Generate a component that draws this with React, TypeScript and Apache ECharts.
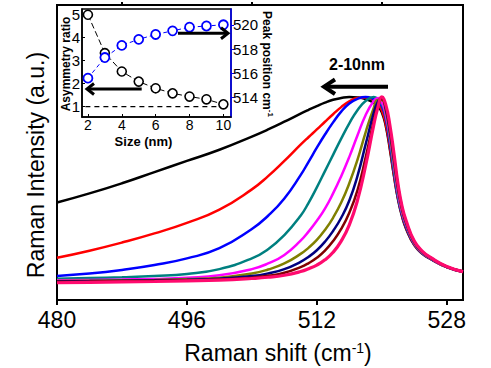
import React, { useEffect, useRef } from "react";
import * as echarts from "echarts";

// Raman shift sample points (cm^-1)
const ramanShift = [480, 484, 488, 492, 496, 500, 504, 506, 508, 510, 511, 512, 513, 514, 515, 516, 517, 518, 519, 519.5, 520, 520.5, 521, 521.5, 522, 522.5, 523, 524, 525, 526, 528, 530];

// Normalized Raman intensity for each crystallite size (a.u.)
const int2nm = [0.48, 0.525, 0.575, 0.63, 0.685, 0.74, 0.805, 0.84, 0.878, 0.918, 0.937, 0.955, 0.972, 0.986, 0.995, 1.0, 0.998, 0.99, 0.972, 0.955, 0.925, 0.855, 0.74, 0.61, 0.495, 0.41, 0.35, 0.27, 0.228, 0.202, 0.162, 0.138];
const int3nm = [0.208, 0.243, 0.283, 0.328, 0.38, 0.445, 0.545, 0.61, 0.685, 0.765, 0.803, 0.84, 0.878, 0.915, 0.95, 0.978, 0.995, 0.998, 0.985, 0.965, 0.935, 0.865, 0.75, 0.615, 0.5, 0.415, 0.355, 0.272, 0.229, 0.203, 0.162, 0.138];
const int4nm = [0.118, 0.13, 0.148, 0.172, 0.205, 0.255, 0.35, 0.415, 0.5, 0.615, 0.682, 0.75, 0.815, 0.875, 0.928, 0.968, 0.991, 1.0, 0.99, 0.975, 0.955, 0.89, 0.77, 0.63, 0.505, 0.42, 0.36, 0.275, 0.23, 0.204, 0.162, 0.139];
const int5nm = [0.105, 0.108, 0.112, 0.118, 0.128, 0.152, 0.205, 0.25, 0.32, 0.415, 0.48, 0.555, 0.635, 0.715, 0.795, 0.87, 0.935, 0.98, 1.0, 0.99, 0.965, 0.9, 0.785, 0.64, 0.51, 0.425, 0.365, 0.278, 0.232, 0.205, 0.162, 0.139];
const int6nm = [0.097, 0.099, 0.101, 0.104, 0.11, 0.122, 0.152, 0.18, 0.222, 0.292, 0.338, 0.39, 0.45, 0.525, 0.61, 0.705, 0.81, 0.91, 0.98, 0.995, 0.975, 0.91, 0.8, 0.66, 0.525, 0.43, 0.37, 0.28, 0.234, 0.206, 0.163, 0.139];
const int7nm = [0.093, 0.095, 0.097, 0.099, 0.103, 0.11, 0.13, 0.15, 0.18, 0.227, 0.258, 0.296, 0.345, 0.405, 0.48, 0.575, 0.69, 0.825, 0.945, 0.985, 0.985, 0.93, 0.815, 0.675, 0.54, 0.44, 0.375, 0.283, 0.235, 0.207, 0.163, 0.14];
const int8nm = [0.092, 0.093, 0.095, 0.097, 0.1, 0.105, 0.118, 0.131, 0.152, 0.188, 0.213, 0.245, 0.287, 0.34, 0.405, 0.49, 0.61, 0.765, 0.92, 0.975, 0.992, 0.94, 0.83, 0.69, 0.55, 0.45, 0.38, 0.286, 0.237, 0.208, 0.164, 0.14];
const int9nm = [0.09, 0.091, 0.093, 0.095, 0.097, 0.101, 0.11, 0.119, 0.134, 0.162, 0.182, 0.208, 0.243, 0.29, 0.35, 0.43, 0.54, 0.7, 0.88, 0.955, 0.99, 0.95, 0.845, 0.705, 0.56, 0.455, 0.385, 0.288, 0.238, 0.209, 0.164, 0.14];
const int10nm = [0.085, 0.087, 0.089, 0.091, 0.094, 0.098, 0.106, 0.112, 0.122, 0.14, 0.154, 0.172, 0.198, 0.235, 0.29, 0.37, 0.49, 0.66, 0.86, 0.945, 1.0, 0.96, 0.86, 0.72, 0.57, 0.46, 0.39, 0.29, 0.24, 0.21, 0.165, 0.14];

const spectra = [int2nm, int3nm, int4nm, int5nm, int6nm, int7nm, int8nm, int9nm, int10nm];
const spectrumColors = ["#000000", "#ff0000", "#0000ff", "#008080", "#ff00ff", "#808000", "#000080", "#800000", "#ff0a6e"];

// Inset data
const sizes = [2, 3, 4, 5, 6, 7, 8, 9, 10];
const asymmetryRatio = [5.0, 3.33, 2.53, 2.09, 1.8, 1.58, 1.44, 1.32, 1.1];
const peakPosition = [515.6, 517.3, 518.3, 518.8, 519.2, 519.5, 519.8, 519.9, 520.0];
const refLineX = [1.85, 10.25];
const refLineY = [1, 1];

// Tick labels
const xTicks = [480, 496, 512, 528];
const xMinorTicks = [488, 504, 520];
const insetXTicks = [2, 4, 6, 8, 10];
const insetLeftTicks = [1, 2, 3, 4, 5];
const insetRightTicks = [514, 516, 518, 520];

const FONT = '"Liberation Sans", Arial, sans-serif';

export default function App() {
  const ref = useRef<HTMLDivElement>(null);

  useEffect(() => {
    if (!ref.current) return;
    const chart = echarts.init(ref.current, null, { renderer: "svg" });

    const mainSeries = spectra.map((arr, k) => ({
      type: "line",
      xAxisIndex: 0,
      yAxisIndex: 0,
      data: ramanShift.map((x, i) => [x, arr[i]]),
      showSymbol: false,
      smooth: 0.5,
      lineStyle: { color: spectrumColors[k], width: k === spectra.length - 1 ? 3.2 : 2.5 },
      z: 2 + k * 0.01,
      silent: true,
    }));

    const option: any = {
      animation: false,
      textStyle: { fontFamily: FONT },
      grid: [
        { left: 57, top: 5, width: 406, height: 295, show: true, borderColor: "#000", borderWidth: 2, backgroundColor: "transparent" },
        { left: 82, top: 9, width: 149, height: 108, show: true, borderColor: "#000", borderWidth: 1.5, backgroundColor: "#fff", z: 3 },
      ],
      xAxis: [
        {
          type: "value", gridIndex: 0, min: 480, max: 530,
          axisLine: { show: true, onZero: false, lineStyle: { color: "#000", width: 2 } },
          axisTick: { show: true, customValues: xTicks, length: 5, lineStyle: { color: "#000", width: 2 } },
          axisLabel: { show: true, customValues: xTicks, fontSize: 23, color: "#000", margin: 8, fontFamily: FONT },
          splitLine: { show: false },
        },
        {
          type: "value", gridIndex: 0, min: 480, max: 530,
          axisLine: { show: false, onZero: false },
          axisTick: { show: true, customValues: xMinorTicks, length: 3, lineStyle: { color: "#000", width: 2 } },
          axisLabel: { show: false },
          splitLine: { show: false },
        },
        {
          type: "value", gridIndex: 1, min: 1.65, max: 10.45,
          axisLine: { show: true, onZero: false, lineStyle: { color: "#000", width: 1.5 } },
          axisTick: { show: true, inside: true, customValues: insetXTicks, length: 3, lineStyle: { color: "#000" } },
          axisLabel: { show: true, customValues: insetXTicks, fontSize: 14, color: "#000", margin: 1, fontFamily: FONT },
          splitLine: { show: false },
          z: 4,
        },
      ],
      yAxis: [
        {
          type: "value", gridIndex: 0, min: 0, max: 1.453,
          axisLine: { show: true, onZero: false, lineStyle: { color: "#000", width: 2 } },
          axisTick: { show: false },
          axisLabel: { show: false },
          splitLine: { show: false },
        },
        {
          type: "value", gridIndex: 1, min: 0.55, max: 5.25, position: "left",
          axisLine: { show: true, onZero: false, lineStyle: { color: "#000", width: 1.5 } },
          axisTick: { show: true, inside: true, customValues: insetLeftTicks, length: 3, lineStyle: { color: "#000" } },
          axisLabel: { show: true, customValues: insetLeftTicks, fontSize: 15, color: "#000", margin: 2, fontFamily: FONT },
          splitLine: { show: false },
          z: 4,
        },
        {
          type: "value", gridIndex: 1, min: 512.4, max: 521.3, position: "right",
          axisLine: { show: true, onZero: false, lineStyle: { color: "#0000ff", width: 1.5 } },
          axisTick: { show: true, customValues: insetRightTicks, length: 3, lineStyle: { color: "#0000ff" } },
          axisLabel: { show: true, customValues: insetRightTicks, fontSize: 15, color: "#000", margin: 2, fontFamily: FONT },
          splitLine: { show: false },
          z: 4,
        },
      ],
      series: [
        ...mainSeries,
        {
          type: "line", xAxisIndex: 2, yAxisIndex: 1,
          data: refLineX.map((x, i) => [x, refLineY[i]]),
          showSymbol: false,
          lineStyle: { color: "#000", width: 1.2, type: [5, 4] },
          z: 5, silent: true,
        },
        {
          type: "line", xAxisIndex: 2, yAxisIndex: 1,
          data: sizes.map((s, i) => [s, asymmetryRatio[i]]),
          symbol: "circle", symbolSize: 9,
          itemStyle: { color: "#fff", borderColor: "#000", borderWidth: 1.6 },
          lineStyle: { color: "#000", width: 1, type: [6, 3] },
          z: 6, silent: true,
        },
        {
          type: "line", xAxisIndex: 2, yAxisIndex: 2,
          data: sizes.map((s, i) => [s, peakPosition[i]]),
          symbol: "circle", symbolSize: 9,
          itemStyle: { color: "#fff", borderColor: "#0000ff", borderWidth: 1.8 },
          lineStyle: { color: "#0000ff", width: 1, type: [4, 3] },
          z: 6, silent: true,
        },
      ],
      graphic: [
        {
          type: "text", x: 35.5, y: 165, rotation: Math.PI / 2,
          style: { text: "Raman Intensity (a.u.)", font: `23px ${FONT}`, fill: "#000", align: "center", verticalAlign: "middle" },
        },
        {
          type: "text", x: 278, y: 353,
          style: {
            text: "{a|Raman shift (cm}{s|-1}{a|)}",
            align: "center", verticalAlign: "middle",
            rich: {
              a: { fontSize: 23, fontFamily: FONT, fill: "#000" },
              s: { fontSize: 14, fontFamily: FONT, fill: "#000", padding: [0, 0, 11, 0] },
            },
          },
        },
        {
          type: "text", x: 66, y: 64, rotation: Math.PI / 2, z: 100,
          style: { text: "Asymmetry ratio", font: `bold 12px ${FONT}`, fill: "#000", align: "center", verticalAlign: "middle" },
        },
        {
          type: "text", x: 267, y: 64, rotation: -Math.PI / 2, z: 100,
          style: {
            text: "{b|Peak position cm}{s|-1}",
            align: "center", verticalAlign: "middle",
            rich: {
              b: { fontSize: 12, fontWeight: "bold", fontFamily: FONT, fill: "#000" },
              s: { fontSize: 8, fontWeight: "bold", fontFamily: FONT, fill: "#000", padding: [0, 0, 6, 0] },
            },
          },
        },
        {
          type: "text", x: 143.5, y: 141, z: 100,
          style: { text: "Size (nm)", font: `bold 13px ${FONT}`, fill: "#000", align: "center", verticalAlign: "middle" },
        },
        {
          type: "text", x: 357, y: 64, z: 100,
          style: { text: "2-10nm", font: `bold 16px ${FONT}`, fill: "#000", align: "center", verticalAlign: "middle" },
        },
        // main arrow (pointing left)
        { type: "line", z: 100, shape: { x1: 388, y1: 86.7, x2: 324, y2: 86.7 }, style: { stroke: "#000", lineWidth: 4 } },
        { type: "polyline", z: 100, shape: { points: [[335, 79.5], [324, 86.7], [335, 94]] }, style: { stroke: "#000", lineWidth: 4, fill: "none", lineJoin: "miter" } },
        // inset arrow (pointing left, asymmetry axis)
        { type: "line", z: 100, shape: { x1: 141.7, y1: 89, x2: 87, y2: 89 }, style: { stroke: "#000", lineWidth: 3 } },
        { type: "polyline", z: 100, shape: { points: [[94, 83.5], [87, 89], [94, 94.5]] }, style: { stroke: "#000", lineWidth: 3, fill: "none", lineJoin: "miter" } },
        // inset arrow (pointing right, peak axis)
        { type: "line", z: 100, shape: { x1: 178, y1: 33.3, x2: 228, y2: 33.3 }, style: { stroke: "#000", lineWidth: 3 } },
        { type: "polyline", z: 100, shape: { points: [[221, 27.8], [228, 33.3], [221, 38.8]] }, style: { stroke: "#000", lineWidth: 3, fill: "none", lineJoin: "miter" } },
      ],
    };

    chart.setOption(option);
    return () => chart.dispose();
  }, []);

  return <div ref={ref} style={{ position: "fixed", left: 0, top: 0, width: 491, height: 368, background: "#fff" }} />;
}
